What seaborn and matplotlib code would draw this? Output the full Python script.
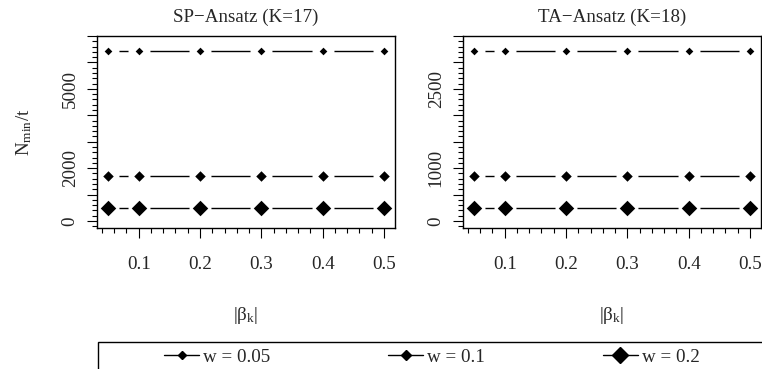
import numpy as np
import pandas as pd
import matplotlib
matplotlib.use("Agg")
import matplotlib.pyplot as plt
import seaborn as sns
from matplotlib.lines import Line2D
from matplotlib.patches import Rectangle
from matplotlib.ticker import MultipleLocator, FixedLocator, FixedFormatter

# ── data ─────────────────────────────────────────────────────────────────────
beta_k = [0.05, 0.1, 0.2, 0.3, 0.4, 0.5]
w_labels = ["w = 0.05", "w = 0.1", "w = 0.2"]

sp_w005 = [6440, 6440, 6440, 6440, 6440, 6440]
sp_w01 = [1705, 1705, 1705, 1705, 1705, 1705]
sp_w02 = [485, 485, 485, 485, 485, 485]

ta_w005 = [3210, 3210, 3210, 3210, 3210, 3210]
ta_w01 = [850, 850, 850, 850, 850, 850]
ta_w02 = [242, 242, 242, 242, 242, 242]

sp_ytick_labels = [0, 2000, 5000]
ta_ytick_labels = [0, 1000, 2500]
x_tick_labels = [0.1, 0.2, 0.3, 0.4, 0.5]

titles = ["SP\u2212Ansatz (K=17)", "TA\u2212Ansatz (K=18)"]

# ── style ────────────────────────────────────────────────────────────────────
sns.set_style("ticks")
plt.rcParams["font.family"] = ["Liberation Serif", "DejaVu Serif"]
plt.rcParams["mathtext.fontset"] = "custom"
plt.rcParams["mathtext.rm"] = "Liberation Serif"
plt.rcParams["mathtext.it"] = "Liberation Serif:italic"
FS = 13.7
MARKER_SIZES = {"w = 0.05": 3.9, "w = 0.1": 5.35, "w = 0.2": 7.9}


def _long_frame(series):
    rows = []
    for label, values in zip(w_labels, series):
        for b, v in zip(beta_k, values):
            rows.append({"beta": b, "N": v, "w": label})
    return pd.DataFrame(rows)


def _draw_panel(ax, df, major_step, minor_step, ylim, ylabels, title):
    for label in w_labels:
        sub = df[df["w"] == label]
        sns.lineplot(data=sub, x="beta", y="N", ax=ax, color="black",
                     linewidth=1.0, zorder=2, legend=False)
        # white halo -> R type="b" gaps around points
        sns.scatterplot(data=sub, x="beta", y="N", ax=ax, color="white",
                        marker="o", s=250, linewidth=0, zorder=2.1, legend=False)
        sns.scatterplot(data=sub, x="beta", y="N", ax=ax, color="black",
                        marker="D", s=MARKER_SIZES[label] ** 2, linewidth=0,
                        zorder=2.2, legend=False)

    ax.set_xlim(0.032, 0.518)
    ax.set_ylim(*ylim)

    ax.xaxis.set_major_locator(FixedLocator(x_tick_labels))
    ax.xaxis.set_major_formatter(FixedFormatter([f"{v:.1f}" for v in x_tick_labels]))
    ax.xaxis.set_minor_locator(FixedLocator(np.arange(0.04, 0.501, 0.02)))

    majors = np.arange(0, ylim[1] + 1, major_step)
    ax.yaxis.set_major_locator(FixedLocator(majors))
    ax.yaxis.set_major_formatter(FixedFormatter(
        [str(int(m)) if int(m) in ylabels else "" for m in majors]))
    ax.yaxis.set_minor_locator(MultipleLocator(minor_step))

    ax.tick_params(axis="both", which="major", direction="out", length=7.2,
                   width=0.8, labelsize=FS, color="black")
    ax.tick_params(axis="both", which="minor", direction="out", length=3.6,
                   width=0.8, color="black")
    ax.tick_params(axis="x", which="major", pad=13)
    ax.tick_params(axis="y", which="major", pad=6)
    for t in ax.get_yticklabels():
        t.set_rotation(90)
        t.set_va("center")

    for spine in ax.spines.values():
        spine.set_visible(True)
        spine.set_linewidth(1.0)
        spine.set_color("black")

    ax.set_title(title, fontsize=FS, pad=10)
    ax.set_xlabel(r"$\mathrm{|β_k|}$", fontsize=FS)
    ax.xaxis.set_label_coords(0.5, -0.40)
    ax.set_ylabel("")


fig = plt.figure(figsize=(7.62, 3.69), dpi=100)
ax1 = fig.add_axes([97 / 762, 1 - 228 / 369, 298 / 762, 192 / 369])
ax2 = fig.add_axes([463 / 762, 1 - 228 / 369, 298 / 762, 192 / 369])

_draw_panel(ax1, _long_frame([sp_w005, sp_w01, sp_w02]), 1000, 200,
            (-265, 7000), sp_ytick_labels, titles[0])
_draw_panel(ax2, _long_frame([ta_w005, ta_w01, ta_w02]), 500, 100,
            (-132, 3500), ta_ytick_labels, titles[1])

ax1.set_ylabel(r"$\mathrm{N_{min}/t}$", fontsize=FS)
ax1.yaxis.set_label_coords(-0.21, 0.5)

# legend in a box along the bottom
fig.patches.append(Rectangle((97.5 / 762, -0.05), 0.9, 0.05 + (369 - 342) / 369,
                             transform=fig.transFigure, fill=False,
                             edgecolor="black", linewidth=1.0))
handles = [Line2D([0], [0], color="black", linewidth=1.0, marker="D",
                  markersize=MARKER_SIZES[lab], label=lab) for lab in w_labels]
fig.legend(handles=handles, loc="center left", ncol=3, frameon=False,
           bbox_to_anchor=(164 / 762, 1 - 357 / 369), fontsize=FS,
           handlelength=1.84, handletextpad=0.2, columnspacing=6.2,
           borderpad=0, borderaxespad=0)

fig.savefig("out.png", dpi=100)
